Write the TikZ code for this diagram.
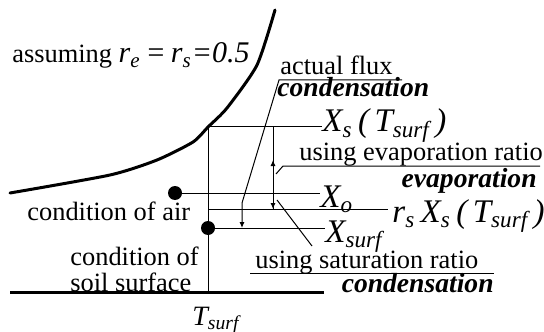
\documentclass[tikz,border=0pt]{standalone}
\usepackage{fontspec}
\setmainfont{Liberation Serif}
\usetikzlibrary{arrows.meta, calc}
\tikzset{
  lbl/.style={font=\fontsize{13.2}{13}\selectfont, inner sep=0pt, anchor=base west},
  sym/.style={font=\fontsize{16.5}{17}\selectfont\itshape, inner sep=0pt, anchor=base west},
  kind/.style={font=\fontsize{13.8}{14}\selectfont\bfseries\itshape, inner sep=0pt, anchor=base west},
  level/.style={line width=0.5pt},
  heavy/.style={line width=1.5pt},
  dot/.style={circle, fill=black, inner sep=0pt, minimum size=7pt},
  flux/.style={line width=0.5pt, -{Latex[length=3pt,width=2.5pt]}}
}

\begin{document}
\begin{tikzpicture}[x=0.5pt, y=-0.5pt]
  \useasboundingbox (0,0) rectangle (544,331);

  % saturation curve and ground
  \draw[heavy, line cap=round] plot[smooth, tension=0.4] coordinates
    {(10,193) (110,175) (157,160) (193,142) (208,127) (227,108) (257,65) (275,10)};
  \coordinate (gw) at (10,292);
  \coordinate (ge) at (324,292);
  \draw[heavy] (gw) -- (ge);

  \coordinate (top) at (208,127);
  \coordinate (foot) at (208,292);
  \coordinate (sat) at (208,209);
  \node[dot] (air) at (175,193) {};
  \node[dot] (soil) at (208,228) {};

  % labels of the levels
  \node[sym] (xs) at (322,132) {X\textsubscript{s}\,(\,T\textsubscript{surf}\,)};
  \node[sym] (xo) at (320,207) {X\textsubscript{o}};
  \node[sym] (rsxs) at (392,222) {r\textsubscript{s}\,X\textsubscript{s}\,(\,T\textsubscript{surf}\,)};
  \node[sym] (xsurf) at (325,242) {X\textsubscript{surf}};
  \node[sym, font=\fontsize{14}{14}\selectfont\itshape] (tsurf) at (192,325) {T\textsubscript{surf}};

  \draw[level] (top) -- (foot);
  \draw[level] (top) -- (top -| xs.west);
  \draw[level] (air) -- (air -| xo.west);
  \draw[level] (sat) -- ($(sat -| rsxs.west)+(-4,0)$);
  \draw[level] (soil) -- (soil -| xsurf.west);

  % texts
  \node[lbl] (assume) at (12,63) {assuming {\fontsize{15}{15}\selectfont\itshape r\textsubscript{e}\,=\,r\textsubscript{s}=0.5}};
  \node[lbl] (airtxt) at (27,220) {condition of air};
  \node[lbl, align=left, anchor=north west] (soiltxt) at (70,247) {condition of\\soil surface};

  \node[lbl] (actual) at (280,75) {actual flux};
  \node[kind] (cond1) at (277,97) {condensation};
  \node[lbl] (evapratio) at (299,160) {using evaporation ratio};
  \node[kind, anchor=base east] (evap) at (537,187) {evaporation};
  \node[lbl] (satratio) at (255,268) {using saturation ratio};
  \node[kind, anchor=base east] (cond2) at (494,292) {condensation};

  % fluxes
  \coordinate (af) at (242,203);
  \draw[flux] (402,80) -- (279,80) -- (af) -- (af |- soil);
  \coordinate (ev) at (273,209);
  \draw[flux] (top -| ev) -- (ev);
  \draw[flux] (ev) -- (273,160);
  \draw[level] (540,166) -- (283,166) -- (276,174);
  \draw[level] (250,273) -- (494,273);
  \draw[level] (277,200) -- (312,246);
\end{tikzpicture}
\end{document}
